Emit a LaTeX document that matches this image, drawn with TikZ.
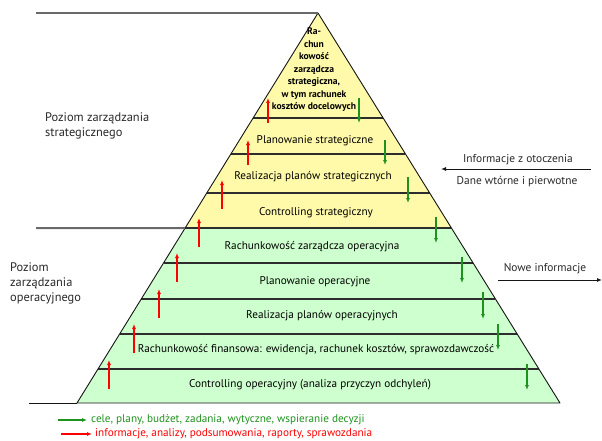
\documentclass[tikz,border=0pt]{standalone}
\usepackage{fontspec}
\setmainfont{PT Sans}
\usetikzlibrary{arrows.meta,calc}
\definecolor{pmedge}{RGB}{20,20,20}
\definecolor{pmsep}{RGB}{45,45,45}
\definecolor{pmlead}{RGB}{105,105,105}
\definecolor{pmstrat}{RGB}{255,250,170}
\definecolor{pmoper}{RGB}{206,255,206}
\definecolor{pmup}{RGB}{255,0,0}
\definecolor{pmdown}{RGB}{30,145,30}
\definecolor{pmside}{RGB}{40,40,40}
\tikzset{
  lvl/.style={font=\fontsize{11.2}{13}\selectfont, inner sep=0pt},
  apx/.style={font=\fontsize{9.6}{12.5}\selectfont\bfseries, align=center, inner sep=0pt},
  side/.style={font=\fontsize{12.4}{15}\selectfont, align=left, text=pmside, inner sep=0pt},
  info/.style={font=\fontsize{11.4}{13}\selectfont, text=pmside, inner sep=0pt},
  legend/.style={font=\fontsize{11.2}{13}\selectfont, inner sep=0pt, anchor=west},
  sepline/.style={draw=pmsep, line width=1.3pt},
  leadline/.style={draw=pmlead, line width=2pt},
  tip/.style={-{Latex[length=5pt,width=4pt]}, line width=1.4pt},
  uparr/.style={tip, draw=pmup},
  dnarr/.style={tip, draw=pmdown},
  arr/.style={tip, draw=pmedge, line width=1pt},
  every picture/.append style={line join=round}
}
\begin{document}
\begin{tikzpicture}[x=1pt, y=-1pt]
  \useasboundingbox (0,0) rectangle (602,441);

  % pyramid corners
  \coordinate (apex) at (318,13);
  \coordinate (bl) at (77,403);
  \coordinate (br) at (560,403);
  \coordinate (ml) at ($(apex)!0.5513!(bl)$);
  \coordinate (mr) at ($(apex)!0.5513!(br)$);

  \fill[pmstrat] (apex) -- (ml) -- (mr) -- cycle;
  \fill[pmoper] (ml) -- (bl) -- (br) -- (mr) -- cycle;

  % level separators
  \foreach \t in {0.2692,0.3615,0.4615,0.5513,0.641,0.7333,0.823,0.9128}
    \draw[sepline] ($(apex)!\t!(bl)$) -- ($(apex)!\t!(br)$);

  \draw[pmedge, line width=0.9pt] (apex) -- (bl) -- (br) -- cycle;

  % level boundaries on the left
  \coordinate (tl) at (36,13);
  \coordinate (mlw) at (36,228);
  \coordinate (blw) at (29,403);
  \draw[leadline] (tl) -- (apex);
  \draw[leadline] (mlw) -- (ml);
  \draw[pmedge, line width=1pt] (blw) -- (bl);

  % information flows
  \foreach \x/\a/\b [count=\i] in {268/98/123,248/140/165,222/180/209,199/218/247,
      177/253/282,159/289/318,134/324/353,109/360/389}{
    \coordinate (u\i) at (\x,\b);
    \coordinate (v\i) at (\x,\a);
    \draw[uparr] (u\i) -- (v\i);
  }
  \foreach \x/\a/\b [count=\i] in {359/98/123,385/140/165,408/177/203,436/217/243,
      462/257/283,483/292/319,498/324/350,527/364/390}{
    \coordinate (g\i) at (\x,\a);
    \coordinate (h\i) at (\x,\b);
    \draw[dnarr] (g\i) -- (h\i);
  }

  \node[apx] (top) at (314,70)
    {Ra-\\chun\\kowość\\zarządcza\\strategiczna,\\w tym rachunek\\kosztów docelowych};
  \node[lvl] (s1) at (315,141) {Planowanie strategiczne};
  \node[lvl] (s2) at (313,177) {Realizacja planów strategicznych};
  \node[lvl] (s3) at (316,213) {Controlling strategiczny};
  \node[lvl] (o1) at (312,247) {Rachunkowość zarządcza operacyjna};
  \node[lvl] (o2) at (315,282) {Planowanie operacyjne};
  \node[lvl] (o3) at (322,316) {Realizacja planów operacyjnych};
  \node[lvl] (o4) at (316,350)
    {Rachunkowość finansowa: ewidencja, rachunek kosztów, sprawozdawczość};
  \node[lvl] (o5) at (310,385) {Controlling operacyjny (analiza przyczyn odchyleń)};

  \node[side, anchor=north west] (strat) at (45,113)
    {Poziom zarządzania\\strategicznego};
  \node[side, anchor=north west] (oper) at (10,263)
    {Poziom\\zarządzania\\operacyjnego};

  % surroundings
  \node[info] (env) at (518,160) {Informacje z otoczenia};
  \node[info] (data) at (517,182) {Dane wtórne i pierwotne};
  \coordinate (envs) at (591,169);
  \coordinate (enve) at (441,169);
  \draw[arr] (envs) -- (enve);
  \node[info] (new) at (545,269) {Nowe informacje};
  \coordinate (news) at (498,280);
  \coordinate (newe) at (602,280);
  \draw[arr] (news) -- (newe);

  % legend
  \coordinate (lg1) at (58,420);
  \coordinate (lg2) at (87,420);
  \coordinate (lr1) at (61,434);
  \coordinate (lr2) at (92,434);
  \draw[dnarr] (lg1) -- (lg2);
  \draw[uparr] (lr1) -- (lr2);
  \node[legend, text=pmdown] (lgt) at (91,420)
    {cele, plany, budżet, zadania, wytyczne, wspieranie decyzji};
  \node[legend, text=pmup] (lrt) at (95,434)
    {informacje, analizy, podsumowania, raporty, sprawozdania};
\end{tikzpicture}
\end{document}
